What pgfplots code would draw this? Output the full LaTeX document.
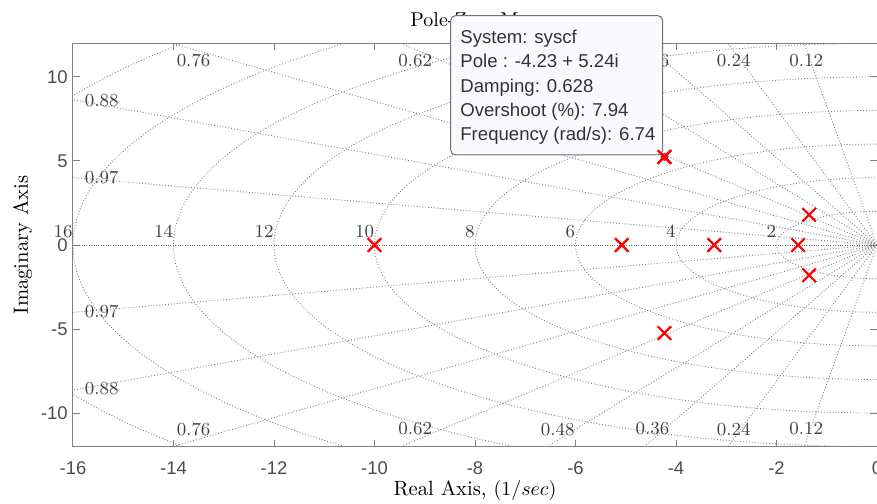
\documentclass[border=0pt]{standalone}
\usepackage{fontspec}
\usepackage{pgfplots}
\pgfplotsset{compat=1.18}
\newfontfamily\tipfont{Liberation Sans}
\definecolor{tipfill}{RGB}{250,250,254}
\definecolor{gridgray}{RGB}{130,130,130}
\tikzset{
  sgrid/.style={draw=gridgray, line width=0.45pt, dash pattern=on 0.45pt off 1pt},
  glabel/.style={text=black!75, inner sep=0pt, font=\fontsize{9.2}{11}\selectfont},
  tiptext/.style={anchor=base west, inner sep=0pt, text=black!80, font=\tipfont\fontsize{9.3}{11}\selectfont},
}
\pgfplotsset{
  pzframe/.style={
    scale only axis, width=402pt, height=201.7pt,
    at={(0,0)}, anchor=south west,
    xmin=-16, xmax=0, ymin=-12, ymax=12,
  },
}

\begin{document}
\begin{tikzpicture}
\begin{axis}[
  pzframe, clip mode=individual,
  xtick={-16,-14,...,0}, ytick={-10,-5,0,5,10},
  tick pos=both, xticklabel pos=lower, yticklabel pos=left,
  tick align=inside, major tick length=3.5pt,
  axis line style={draw=black!50, line width=0.5pt},
  every tick/.style={draw=black!50, line width=0.5pt},
  /pgf/number format/assume math mode=true,
  ticklabel style={font=\tipfont\fontsize{9.2}{11}\selectfont, text=black!70, inner sep=0pt},
  xticklabel style={anchor=north, yshift=-7.5pt},
  yticklabel style={anchor=east, xshift=-2.5pt},
]
% s-plane grid: natural frequency arcs and constant damping rays
\begin{scope}
  \clip (rel axis cs:0,0) rectangle (rel axis cs:1,1);
  \pgfplotsinvokeforeach{2,4,6,8,10,12,14,16,18.3}{
    \draw[sgrid] (axis cs:0,0) circle[radius=#1];
  }
  % rays for zeta = 0.12, 0.24, 0.36, 0.48, 0.62, 0.76, 0.88, 0.97
  \draw[sgrid] (axis cs:0,0) -- (axis cs:-3.6,29.78);
  \draw[sgrid] (axis cs:0,0) -- (axis cs:-7.2,29.12);
  \draw[sgrid] (axis cs:0,0) -- (axis cs:-10.8,27.99);
  \draw[sgrid] (axis cs:0,0) -- (axis cs:-14.4,26.32);
  \draw[sgrid] (axis cs:0,0) -- (axis cs:-18.6,23.54);
  \draw[sgrid] (axis cs:0,0) -- (axis cs:-22.8,19.50);
  \draw[sgrid] (axis cs:0,0) -- (axis cs:-26.4,14.25);
  \draw[sgrid] (axis cs:0,0) -- (axis cs:-29.1,7.29);
  \draw[sgrid] (axis cs:0,0) -- (axis cs:-3.6,-29.78);
  \draw[sgrid] (axis cs:0,0) -- (axis cs:-7.2,-29.12);
  \draw[sgrid] (axis cs:0,0) -- (axis cs:-10.8,-27.99);
  \draw[sgrid] (axis cs:0,0) -- (axis cs:-14.4,-26.32);
  \draw[sgrid] (axis cs:0,0) -- (axis cs:-18.6,-23.54);
  \draw[sgrid] (axis cs:0,0) -- (axis cs:-22.8,-19.50);
  \draw[sgrid] (axis cs:0,0) -- (axis cs:-26.4,-14.25);
  \draw[sgrid] (axis cs:0,0) -- (axis cs:-29.1,-7.29);
  \draw[draw=black!60, line width=0.5pt, dash pattern=on 0.5pt off 0.7pt]
    (axis cs:0,0) -- (axis cs:-16,0);
\end{scope}

% damping labels
\node[glabel] at (axis cs:-13.6,11.0) {0.76};
\node[glabel] at (axis cs:-9.19,11.0) {0.62};
\node[glabel] at (axis cs:-6.354,11.0) {0.48};
\node[glabel] at (axis cs:-4.47,11.0) {0.36};
\node[glabel] at (axis cs:-2.85,11.0) {0.24};
\node[glabel] at (axis cs:-1.41,11.0) {0.12};
\node[glabel] at (axis cs:-13.6,-10.95) {0.76};
\node[glabel] at (axis cs:-9.19,-10.95) {0.62};
\node[glabel] at (axis cs:-6.354,-10.95) {0.48};
\node[glabel] at (axis cs:-4.47,-10.95) {0.36};
\node[glabel] at (axis cs:-2.85,-10.95) {0.24};
\node[glabel] at (axis cs:-1.41,-10.95) {0.12};
\node[glabel] at (axis cs:-15.43,8.59) {0.88};
\node[glabel] at (axis cs:-15.43,3.99) {0.97};
\node[glabel] at (axis cs:-15.43,-3.94) {0.97};
\node[glabel] at (axis cs:-15.43,-8.52) {0.88};

% natural frequency labels
\pgfplotsinvokeforeach{2,4,6,8,10,12,14,16}{
  \node[glabel, anchor=base east] at (axis cs:-#1,0.45) {#1};
}

% poles
\addplot[only marks, mark=x, mark size=4.8pt, red, line width=1.1pt]
  coordinates {(-10,0) (-5.08,0) (-3.24,0) (-1.57,0)
               (-1.35,1.8) (-1.35,-1.8) (-4.23,5.24) (-4.23,-5.24)};

% descriptions
\node[anchor=base, inner sep=0pt, font=\fontsize{10}{12}\selectfont]
  at ([yshift=8.3pt]rel axis cs:0.5,1) {Pole-Zero Map};
\node[anchor=base, inner sep=0pt, font=\fontsize{10.3}{12}\selectfont]
  at ([yshift=-24.15pt]rel axis cs:0.5,0) {Real Axis, $(1/sec)$};
\node[anchor=base, rotate=90, inner sep=0pt, font=\fontsize{10.3}{12}\selectfont]
  at ([xshift=-22.5pt]rel axis cs:0,0.5) {Imaginary Axis};

% data tip anchors
\coordinate (tipA) at (axis cs:-8.484,5.357);
\coordinate (tipB) at (axis cs:-4.265,13.65);
\coordinate (tipL1) at (axis cs:-8.299,11.99);
\coordinate (tipL2) at (axis cs:-8.299,10.55);
\coordinate (tipL3) at (axis cs:-8.299,9.10);
\coordinate (tipL4) at (axis cs:-8.299,7.66);
\coordinate (tipL5) at (axis cs:-8.299,6.21);
\end{axis}

% data tip
\draw[rounded corners=2.5pt, fill=tipfill, draw=black!55, line width=0.5pt] (tipA) rectangle (tipB);
\node[tiptext] at (tipL1) {System: syscf};
\node[tiptext] at (tipL2) {Pole : -4.23 + 5.24i};
\node[tiptext] at (tipL3) {Damping: 0.628};
\node[tiptext] at (tipL4) {Overshoot (\%): 7.94};
\node[tiptext] at (tipL5) {Frequency (rad/s): 6.74};

% selected pole, drawn above the data tip
\begin{axis}[pzframe, hide axis, clip=false]
\addplot[only marks, mark=x, mark size=4.8pt, red, line width=1.1pt]
  coordinates {(-4.23,5.24)};
\addplot[only marks, mark=o, mark size=1.6pt, red, line width=0.7pt]
  coordinates {(-4.23,5.24)};
\end{axis}

\pgfresetboundingbox
\path[use as bounding box] (-36.5pt,-28.15pt) rectangle (402pt,223.35pt);
\end{tikzpicture}
\end{document}
